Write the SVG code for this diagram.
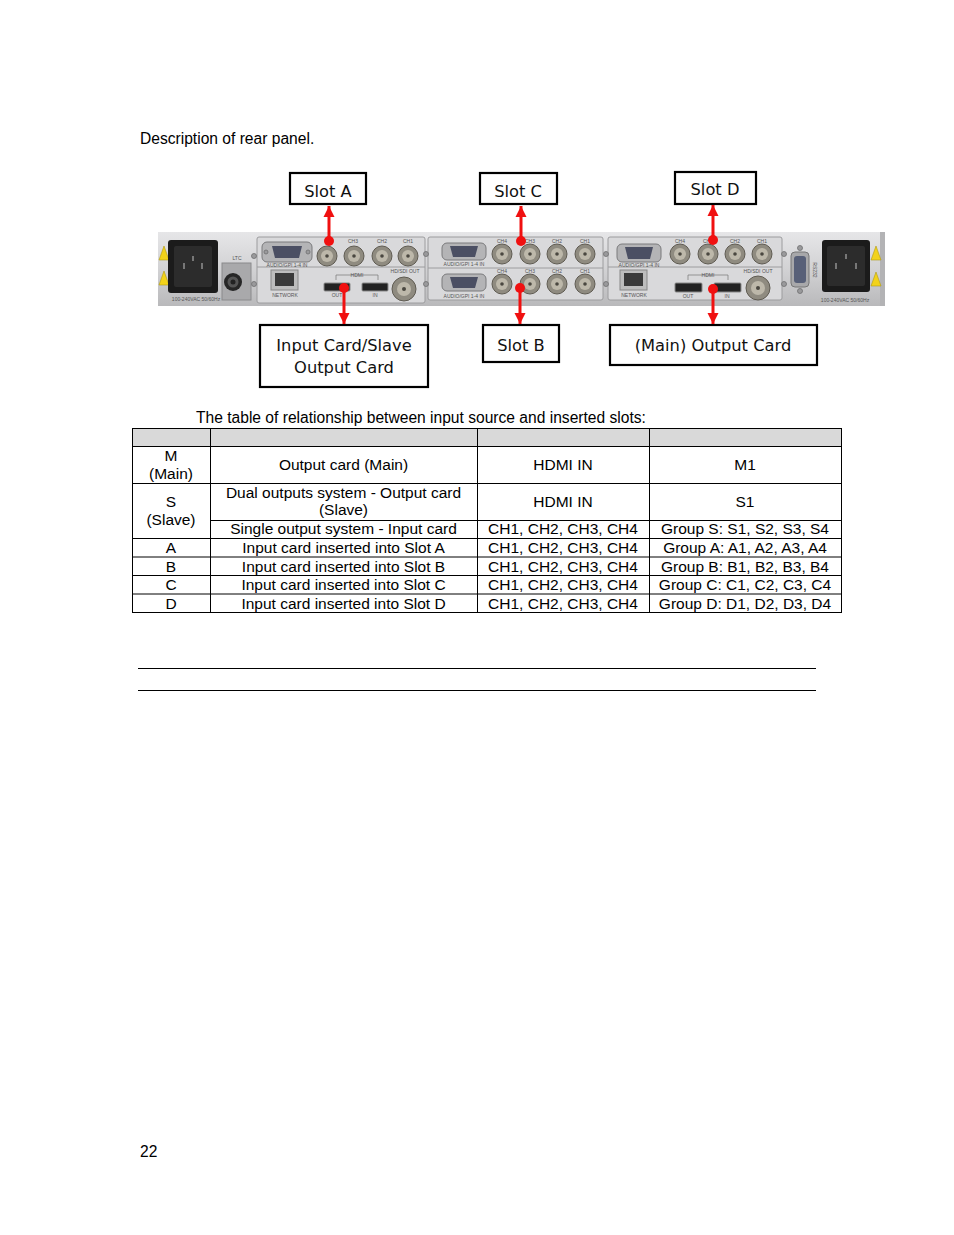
<svg xmlns="http://www.w3.org/2000/svg" width="954" height="1235" viewBox="0 0 954 1235">
<style>
.doc{font-family:"Liberation Sans",Arial,sans-serif;font-size:15.6px;fill:#000}
.tb{font-family:"Liberation Sans",Arial,sans-serif;font-size:15.5px;fill:#000;text-anchor:middle}
.lbl{font-family:"DejaVu Sans",Verdana,sans-serif;font-size:16.3px;fill:#111;text-anchor:middle}
.box{fill:#fff;stroke:#000;stroke-width:2.2}
.tl{stroke:#000;stroke-width:1;fill:none}
.arrow{stroke:#f01010;stroke-width:3;fill:none}
.dot{fill:#f01010}
.plate{fill:#d9d9db;stroke:#9c9c9e;stroke-width:1}
.bnc{fill:#8f8b80;stroke:#5f5b52;stroke-width:1}
.bnci{fill:#bdb8aa}
.bncc{fill:#4a4740}
.vga{fill:#b4b4b6;stroke:#7a7a7c;stroke-width:1}
.vgai{fill:#4b4f63}
.scr{fill:#9a9a9c;stroke:#6e6e70;stroke-width:0.8}
.tiny{font-family:"Liberation Sans",Arial,sans-serif;font-size:5px;fill:#555}
.hdmi{fill:#222;stroke:#888;stroke-width:1}
.warn{fill:#f2d21a;stroke:#b09a10;stroke-width:0.6}
</style>
<defs>
<linearGradient id="body" x1="0" y1="0" x2="0" y2="1">
<stop offset="0" stop-color="#e6e6e8"/>
<stop offset="0.5" stop-color="#d2d2d4"/>
<stop offset="1" stop-color="#b9b9bb"/>
</linearGradient>
<marker id="ah" markerUnits="userSpaceOnUse" markerWidth="12" markerHeight="12" viewBox="0 0 12 12" refX="11" refY="6" orient="auto">
<path d="M0,0.5 L11,6 L0,11.5 Z" fill="#f01010"/>
</marker>
</defs>

<rect width="954" height="1235" fill="#fff"/>

<text class="doc" x="140" y="144">Description of rear panel.</text>

<!-- rear panel (photo) -->
<g id="panel">
<rect x="158" y="232" width="727" height="74" fill="url(#body)"/>
<rect x="880" y="232" width="5" height="74" fill="#b3b3b5"/>
<!-- left power -->
<path class="warn" d="M159,260 L164,246 L169,260 Z"/>
<path class="warn" d="M159,285 L164,271 L169,285 Z"/>
<rect x="168" y="240" width="50" height="53" rx="3" fill="#1b1b1b"/>
<rect x="174" y="246" width="38" height="41" rx="2" fill="#2c2c2c"/>
<rect x="183" y="263" width="2" height="6" fill="#777"/>
<rect x="201" y="263" width="2" height="6" fill="#777"/>
<rect x="192" y="256" width="2" height="5" fill="#777"/>
<text class="tiny" x="196" y="301" text-anchor="middle">100-240VAC 50/60Hz</text>
<!-- LTC -->
<text class="tiny" x="237" y="260" text-anchor="middle" font-size="6">LTC</text>
<rect x="222" y="263" width="29" height="37" fill="#a9a9ab" stroke="#8a8a8c"/>
<circle cx="233" cy="282" r="9" fill="#262626"/>
<circle cx="233" cy="282" r="5.5" fill="#555"/>
<circle cx="233" cy="282" r="2.5" fill="#222"/>

<!-- card A / input-slave -->
<rect class="plate" x="257" y="237" width="168" height="66" rx="2"/>
<line x1="257" y1="267" x2="425" y2="267" stroke="#9c9c9e"/>
<circle class="scr" cx="254" cy="256" r="2.5"/>
<circle class="scr" cx="254" cy="284" r="2.5"/>
<rect class="vga" x="262" y="242" width="50" height="20" rx="5"/>
<path class="vgai" d="M272,246 L302,246 L299,258 L275,258 Z"/>
<circle class="scr" cx="266" cy="252" r="2"/>
<circle class="scr" cx="308" cy="252" r="2"/>
<text class="tiny" x="287" y="267" text-anchor="middle">AUDIO/GPI 1-4 IN</text>
<text class="tiny" x="353" y="243" text-anchor="middle">CH3</text>
<text class="tiny" x="382" y="243" text-anchor="middle">CH2</text>
<text class="tiny" x="408" y="243" text-anchor="middle">CH1</text>
<circle class="bnc" cx="327" cy="256" r="10"/><circle class="bnci" cx="327" cy="256" r="6"/><circle class="bncc" cx="327" cy="256" r="1.8"/>
<circle class="bnc" cx="354" cy="256" r="10"/><circle class="bnci" cx="354" cy="256" r="6"/><circle class="bncc" cx="354" cy="256" r="1.8"/>
<circle class="bnc" cx="382" cy="256" r="10"/><circle class="bnci" cx="382" cy="256" r="6"/><circle class="bncc" cx="382" cy="256" r="1.8"/>
<circle class="bnc" cx="408" cy="256" r="10"/><circle class="bnci" cx="408" cy="256" r="6"/><circle class="bncc" cx="408" cy="256" r="1.8"/>
<rect x="271" y="270" width="27" height="20" fill="#bdbdbd" stroke="#888"/>
<rect x="275" y="273" width="19" height="13" fill="#3a3a3a"/>
<text class="tiny" x="285" y="297" text-anchor="middle">NETWORK</text>
<path d="M336,280 L336,275 L378,275 L378,280" stroke="#777" stroke-width="0.7" fill="none"/>
<text class="tiny" x="357" y="277" text-anchor="middle">HDMI</text>
<rect class="hdmi" x="324" y="283" width="26" height="8" rx="1"/>
<rect class="hdmi" x="362" y="283" width="26" height="8" rx="1"/>
<text class="tiny" x="337" y="297" text-anchor="middle">OUT</text>
<text class="tiny" x="375" y="297" text-anchor="middle">IN</text>
<text class="tiny" x="405" y="273" text-anchor="middle">HD/SDI OUT</text>
<circle class="bnc" cx="404" cy="289" r="12"/><circle class="bnci" cx="404" cy="289" r="7"/><circle class="bncc" cx="404" cy="289" r="2"/>

<!-- card C / B -->
<rect class="plate" x="428" y="237" width="175" height="63" rx="2"/>
<line x1="428" y1="268" x2="603" y2="268" stroke="#9c9c9e"/>
<circle class="scr" cx="426" cy="254" r="2.5"/>
<circle class="scr" cx="426" cy="284" r="2.5"/>
<rect class="vga" x="442" y="243" width="44" height="17" rx="5"/>
<path class="vgai" d="M450,246 L478,246 L475,257 L453,257 Z"/>
<rect class="vga" x="442" y="274" width="44" height="17" rx="5"/>
<path class="vgai" d="M450,277 L478,277 L475,288 L453,288 Z"/>
<text class="tiny" x="464" y="266" text-anchor="middle">AUDIO/GPI 1-4 IN</text>
<text class="tiny" x="464" y="298" text-anchor="middle">AUDIO/GPI 1-4 IN</text>
<text class="tiny" x="502" y="243" text-anchor="middle">CH4</text>
<text class="tiny" x="530" y="243" text-anchor="middle">CH3</text>
<text class="tiny" x="557" y="243" text-anchor="middle">CH2</text>
<text class="tiny" x="585" y="243" text-anchor="middle">CH1</text>
<text class="tiny" x="502" y="273" text-anchor="middle">CH4</text>
<text class="tiny" x="530" y="273" text-anchor="middle">CH3</text>
<text class="tiny" x="557" y="273" text-anchor="middle">CH2</text>
<text class="tiny" x="585" y="273" text-anchor="middle">CH1</text>
<circle class="bnc" cx="502" cy="254" r="10"/><circle class="bnci" cx="502" cy="254" r="6"/><circle class="bncc" cx="502" cy="254" r="1.8"/>
<circle class="bnc" cx="530" cy="254" r="10"/><circle class="bnci" cx="530" cy="254" r="6"/><circle class="bncc" cx="530" cy="254" r="1.8"/>
<circle class="bnc" cx="557" cy="254" r="10"/><circle class="bnci" cx="557" cy="254" r="6"/><circle class="bncc" cx="557" cy="254" r="1.8"/>
<circle class="bnc" cx="585" cy="254" r="10"/><circle class="bnci" cx="585" cy="254" r="6"/><circle class="bncc" cx="585" cy="254" r="1.8"/>
<circle class="bnc" cx="502" cy="284" r="10"/><circle class="bnci" cx="502" cy="284" r="6"/><circle class="bncc" cx="502" cy="284" r="1.8"/>
<circle class="bnc" cx="530" cy="284" r="10"/><circle class="bnci" cx="530" cy="284" r="6"/><circle class="bncc" cx="530" cy="284" r="1.8"/>
<circle class="bnc" cx="557" cy="284" r="10"/><circle class="bnci" cx="557" cy="284" r="6"/><circle class="bncc" cx="557" cy="284" r="1.8"/>
<circle class="bnc" cx="585" cy="284" r="10"/><circle class="bnci" cx="585" cy="284" r="6"/><circle class="bncc" cx="585" cy="284" r="1.8"/>

<!-- card D / main -->
<rect class="plate" x="608" y="237" width="174" height="63" rx="2"/>
<line x1="608" y1="267" x2="782" y2="267" stroke="#9c9c9e"/>
<circle class="scr" cx="606" cy="254" r="2.5"/>
<circle class="scr" cx="606" cy="284" r="2.5"/>
<circle class="scr" cx="784" cy="254" r="2.5"/>
<circle class="scr" cx="784" cy="284" r="2.5"/>
<rect class="vga" x="617" y="244" width="44" height="18" rx="5"/>
<path class="vgai" d="M625,247 L653,247 L650,259 L628,259 Z"/>
<text class="tiny" x="639" y="267" text-anchor="middle">AUDIO/GPI 1-4 IN</text>
<text class="tiny" x="680" y="243" text-anchor="middle">CH4</text>
<text class="tiny" x="708" y="243" text-anchor="middle">CH3</text>
<text class="tiny" x="735" y="243" text-anchor="middle">CH2</text>
<text class="tiny" x="762" y="243" text-anchor="middle">CH1</text>
<circle class="bnc" cx="680" cy="254" r="10"/><circle class="bnci" cx="680" cy="254" r="6"/><circle class="bncc" cx="680" cy="254" r="1.8"/>
<circle class="bnc" cx="708" cy="254" r="10"/><circle class="bnci" cx="708" cy="254" r="6"/><circle class="bncc" cx="708" cy="254" r="1.8"/>
<circle class="bnc" cx="735" cy="254" r="10"/><circle class="bnci" cx="735" cy="254" r="6"/><circle class="bncc" cx="735" cy="254" r="1.8"/>
<circle class="bnc" cx="762" cy="254" r="10"/><circle class="bnci" cx="762" cy="254" r="6"/><circle class="bncc" cx="762" cy="254" r="1.8"/>
<rect x="620" y="270" width="27" height="20" fill="#bdbdbd" stroke="#888"/>
<rect x="624" y="273" width="19" height="13" fill="#3a3a3a"/>
<text class="tiny" x="634" y="297" text-anchor="middle">NETWORK</text>
<path d="M688,280 L688,275 L728,275 L728,280" stroke="#777" stroke-width="0.7" fill="none"/>
<text class="tiny" x="708" y="277" text-anchor="middle">HDMI</text>
<rect class="hdmi" x="675" y="283" width="27" height="9" rx="1"/>
<rect class="hdmi" x="714" y="283" width="27" height="9" rx="1"/>
<text class="tiny" x="688" y="298" text-anchor="middle">OUT</text>
<text class="tiny" x="727" y="298" text-anchor="middle">IN</text>
<text class="tiny" x="758" y="273" text-anchor="middle">HD/SDI OUT</text>
<circle class="bnc" cx="758" cy="288" r="12"/><circle class="bnci" cx="758" cy="288" r="7"/><circle class="bncc" cx="758" cy="288" r="2"/>
<!-- RS232 -->
<circle class="scr" cx="800" cy="248" r="2.5"/>
<circle class="scr" cx="800" cy="291" r="2.5"/>
<rect x="791" y="252" width="18" height="35" rx="4" fill="#a8a8aa" stroke="#777"/>
<rect x="794" y="256" width="12" height="27" rx="3" fill="#586078"/>
<text class="tiny" x="813" y="270" text-anchor="middle" transform="rotate(90 813 270)">RS232</text>
<!-- right power -->
<rect x="822" y="240" width="48" height="52" rx="3" fill="#1b1b1b"/>
<rect x="827" y="246" width="38" height="40" rx="2" fill="#2c2c2c"/>
<rect x="835" y="263" width="2" height="6" fill="#777"/>
<rect x="855" y="263" width="2" height="6" fill="#777"/>
<rect x="845" y="254" width="2" height="5" fill="#777"/>
<path class="warn" d="M871,260 L876,246 L881,260 Z"/>
<path class="warn" d="M871,286 L876,272 L881,286 Z"/>
<text class="tiny" x="845" y="302" text-anchor="middle">100-240VAC 50/60Hz</text>
</g>

<!-- label nodes -->
<g id="slotA"><rect class="box" x="290" y="173" width="76" height="31"/><text class="lbl" x="328" y="197">Slot A</text></g>
<g id="slotC"><rect class="box" x="480" y="173" width="77" height="31"/><text class="lbl" x="518" y="197">Slot C</text></g>
<g id="slotD"><rect class="box" x="675" y="172" width="81" height="32"/><text class="lbl" x="715" y="195">Slot D</text></g>
<g id="inputSlave"><rect class="box" x="260" y="325" width="168" height="62"/><text class="lbl" x="344" y="351">Input Card/Slave</text><text class="lbl" x="344" y="373">Output Card</text></g>
<g id="slotB"><rect class="box" x="483" y="325" width="76" height="37"/><text class="lbl" x="521" y="351">Slot B</text></g>
<g id="mainOut"><rect class="box" x="610" y="325" width="207" height="40"/><text class="lbl" x="713" y="351">(Main) Output Card</text></g>

<!-- connectors -->
<g id="connectors">
<line class="arrow" x1="329" y1="241" x2="329" y2="206" marker-end="url(#ah)"/>
<circle class="dot" cx="329" cy="241" r="5"/>
<line class="arrow" x1="521" y1="241" x2="521" y2="206" marker-end="url(#ah)"/>
<circle class="dot" cx="521" cy="241" r="5"/>
<line class="arrow" x1="713" y1="240" x2="713" y2="205" marker-end="url(#ah)"/>
<circle class="dot" cx="713" cy="240" r="5"/>
<line class="arrow" x1="344" y1="288" x2="344" y2="324" marker-end="url(#ah)"/>
<circle class="dot" cx="344" cy="288" r="5"/>
<line class="arrow" x1="520" y1="288" x2="520" y2="324" marker-end="url(#ah)"/>
<circle class="dot" cx="520" cy="288" r="5"/>
<line class="arrow" x1="713" y1="289" x2="713" y2="324" marker-end="url(#ah)"/>
<circle class="dot" cx="713" cy="289" r="5"/>
</g>

<text class="doc" x="196" y="423">The table of relationship between input source and inserted slots:</text>

<g id="table">
<rect x="132.5" y="428.5" width="709" height="18" fill="#d9d9d9"/>
<rect class="tl" x="132.5" y="428.5" width="709" height="184"/>
<line class="tl" x1="132" y1="446.5" x2="842" y2="446.5"/>
<line class="tl" x1="132" y1="483.5" x2="842" y2="483.5"/>
<line class="tl" x1="210" y1="520.5" x2="842" y2="520.5"/>
<line class="tl" x1="132" y1="538.5" x2="842" y2="538.5"/>
<line class="tl" x1="132" y1="557" x2="842" y2="557"/>
<line class="tl" x1="132" y1="575.5" x2="842" y2="575.5"/>
<line class="tl" x1="132" y1="594" x2="842" y2="594"/>
<line class="tl" x1="210.5" y1="428" x2="210.5" y2="613"/>
<line class="tl" x1="477.5" y1="428" x2="477.5" y2="613"/>
<line class="tl" x1="649.5" y1="428" x2="649.5" y2="613"/>

<text class="tb" x="171" y="461">M</text>
<text class="tb" x="171" y="479">(Main)</text>
<text class="tb" x="343.5" y="470">Output card (Main)</text>
<text class="tb" x="563" y="470">HDMI IN</text>
<text class="tb" x="745" y="470">M1</text>

<text class="tb" x="171" y="507">S</text>
<text class="tb" x="171" y="525">(Slave)</text>
<text class="tb" x="343.5" y="498">Dual outputs system - Output card</text>
<text class="tb" x="343.5" y="515">(Slave)</text>
<text class="tb" x="563" y="507">HDMI IN</text>
<text class="tb" x="745" y="507">S1</text>

<text class="tb" x="343.5" y="534">Single output system - Input card</text>
<text class="tb" x="563" y="534">CH1, CH2, CH3, CH4</text>
<text class="tb" x="745" y="534">Group S: S1, S2, S3, S4</text>

<text class="tb" x="171" y="553">A</text>
<text class="tb" x="343.5" y="553">Input card inserted into Slot A</text>
<text class="tb" x="563" y="553">CH1, CH2, CH3, CH4</text>
<text class="tb" x="745" y="553">Group A: A1, A2, A3, A4</text>

<text class="tb" x="171" y="572">B</text>
<text class="tb" x="343.5" y="572">Input card inserted into Slot B</text>
<text class="tb" x="563" y="572">CH1, CH2, CH3, CH4</text>
<text class="tb" x="745" y="572">Group B: B1, B2, B3, B4</text>

<text class="tb" x="171" y="590">C</text>
<text class="tb" x="343.5" y="590">Input card inserted into Slot C</text>
<text class="tb" x="563" y="590">CH1, CH2, CH3, CH4</text>
<text class="tb" x="745" y="590">Group C: C1, C2, C3, C4</text>

<text class="tb" x="171" y="609">D</text>
<text class="tb" x="343.5" y="609">Input card inserted into Slot D</text>
<text class="tb" x="563" y="609">CH1, CH2, CH3, CH4</text>
<text class="tb" x="745" y="609">Group D: D1, D2, D3, D4</text>
</g>

<line x1="138" y1="668.5" x2="816" y2="668.5" stroke="#000" stroke-width="1.2"/>
<line x1="138" y1="690.5" x2="816" y2="690.5" stroke="#000" stroke-width="1.2"/>

<text class="doc" x="140" y="1157">22</text>
</svg>
